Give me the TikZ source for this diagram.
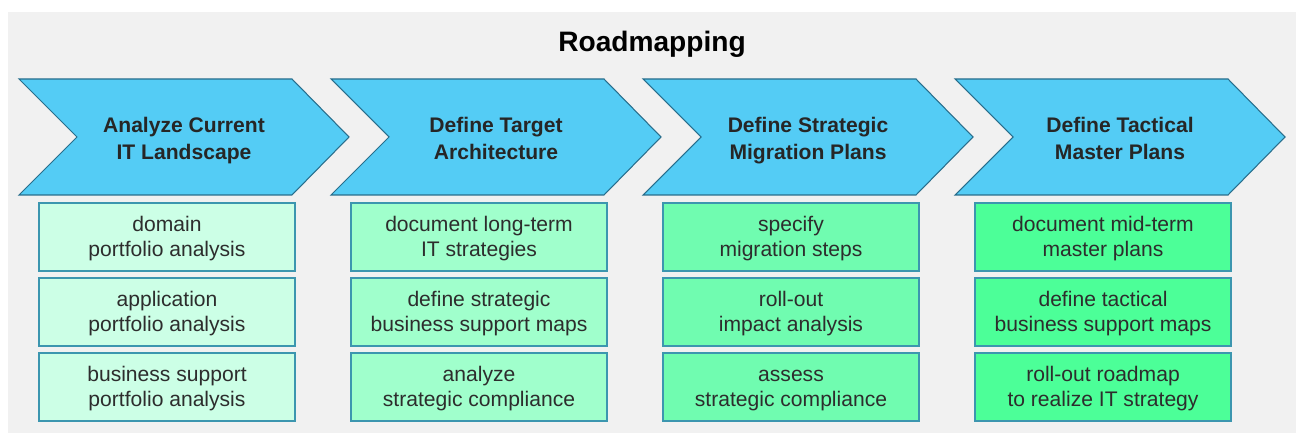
\documentclass[tikz,border=0pt]{standalone}
\usepackage{fontspec}
\setmainfont{Liberation Sans}
\definecolor{panelgray}{RGB}{241,241,241}
\definecolor{chevfill}{RGB}{84,204,245}
\definecolor{chevline}{RGB}{40,110,140}
\definecolor{boxline}{RGB}{60,150,175}
\definecolor{stepA}{RGB}{204,255,230}
\definecolor{stepB}{RGB}{160,255,204}
\definecolor{stepC}{RGB}{112,252,176}
\definecolor{stepD}{RGB}{76,255,152}
\definecolor{txtgray}{RGB}{45,45,45}
\begin{document}
\begin{tikzpicture}[
  x=0.02cm, y=-0.02cm,
  chev/.style={draw=chevline,fill=chevfill,line width=0.6pt,line join=miter},
  head/.style={align=center,text=black!85,text height=24.1pt,text depth=3.2pt,
    font=\fontsize{12}{15.3}\selectfont\bfseries},
  task/.style={draw=boxline,line width=0.8pt,minimum width=5.12cm,minimum height=1.36cm,
    align=center,text=txtgray,text height=25.2pt,text depth=2.6pt,
    font=\fontsize{12}{14.7}\selectfont}
]
  \useasboundingbox (0,0) rectangle (1301,435);
  \fill[panelgray] (8,12) rectangle (1296,433);

  \node (title) at (652,44) {\fontsize{16}{19}\selectfont\bfseries Roadmapping};

  % phases
  \draw[chev] (19,79) -- (292,79) -- (349,137) -- (292,195) -- (19,195) -- (77,137) -- cycle;
  \draw[chev] (331,79) -- (604,79) -- (661,137) -- (604,195) -- (331,195) -- (389,137) -- cycle;
  \draw[chev] (643,79) -- (916,79) -- (973,137) -- (916,195) -- (643,195) -- (701,137) -- cycle;
  \draw[chev] (955,79) -- (1228,79) -- (1285,137) -- (1228,195) -- (955,195) -- (1013,137) -- cycle;

  \node[head] (p1) at (184,141) {Analyze Current\\IT Landscape};
  \node[head] (p2) at (496,141) {Define Target\\Architecture};
  \node[head] (p3) at (808,141) {Define Strategic\\Migration Plans};
  \node[head] (p4) at (1120,141) {Define Tactical\\Master Plans};

  % tasks
  \node[task,fill=stepA] (t11) at (167,237) {domain\\portfolio analysis};
  \node[task,fill=stepA] (t12) at (167,312) {application\\portfolio analysis};
  \node[task,fill=stepA] (t13) at (167,387) {business support\\portfolio analysis};

  \node[task,fill=stepB] (t21) at (479,237) {document long-term\\IT strategies};
  \node[task,fill=stepB] (t22) at (479,312) {define strategic\\business support maps};
  \node[task,fill=stepB] (t23) at (479,387) {analyze\\strategic compliance};

  \node[task,fill=stepC] (t31) at (791,237) {specify\\migration steps};
  \node[task,fill=stepC] (t32) at (791,312) {roll-out\\impact analysis};
  \node[task,fill=stepC] (t33) at (791,387) {assess\\strategic compliance};

  \node[task,fill=stepD] (t41) at (1103,237) {document mid-term\\master plans};
  \node[task,fill=stepD] (t42) at (1103,312) {define tactical\\business support maps};
  \node[task,fill=stepD] (t43) at (1103,387) {roll-out roadmap\\to realize IT strategy};
\end{tikzpicture}
\end{document}
